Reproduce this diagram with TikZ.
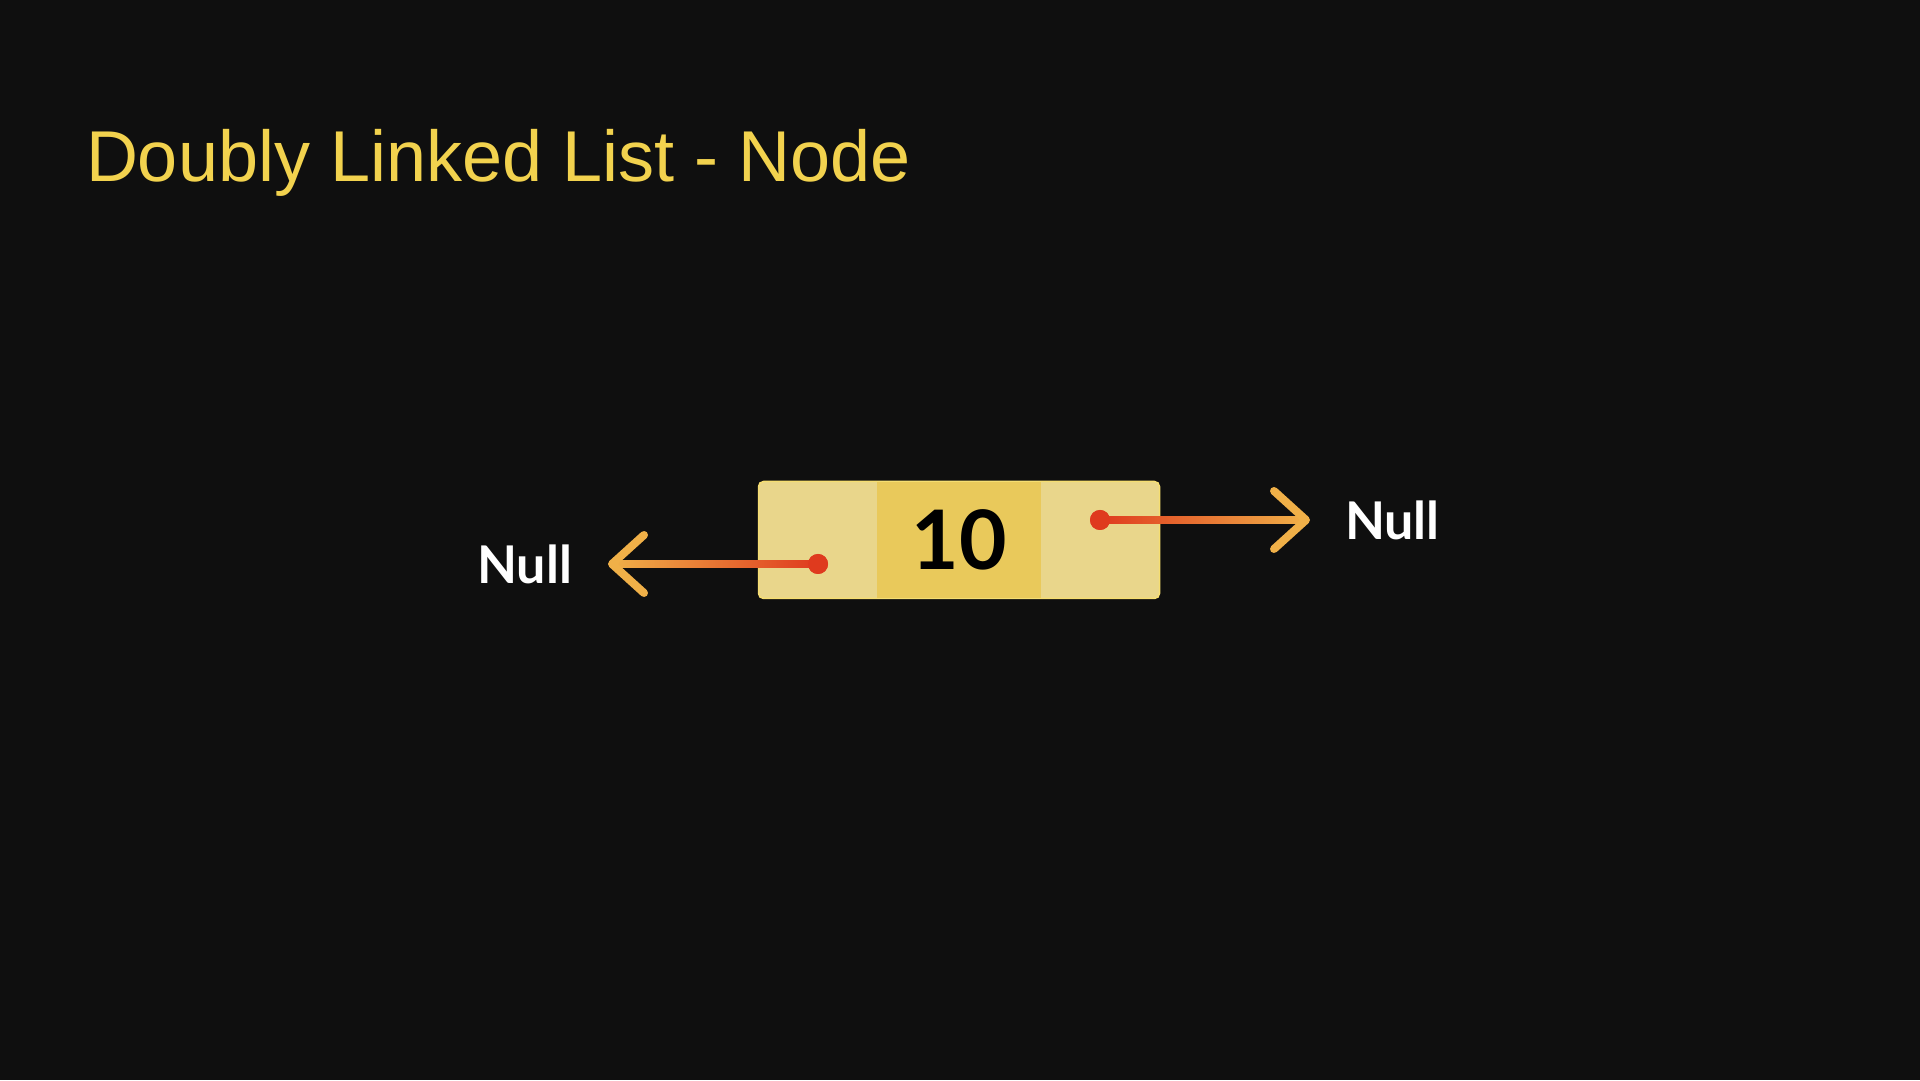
\documentclass[tikz,border=0pt]{standalone}
\usepackage{fontspec}
\setmainfont{Liberation Sans}
\newfontfamily\labelfont{Lato}
\usetikzlibrary{positioning, calc}
\definecolor{bgdark}{HTML}{0F0F0F}
\definecolor{titleyellow}{HTML}{F2D24E}
\definecolor{celllight}{HTML}{E9D68B}
\definecolor{cellmid}{HTML}{E9C95B}
\definecolor{cellrim}{HTML}{F6DE72}
\definecolor{linkred}{HTML}{DF3A1E}
\definecolor{linkorange}{HTML}{F0B048}

\begin{document}
\begin{tikzpicture}[x=1pt, y=1pt, every node/.style={inner sep=0pt, outer sep=0pt},
  title/.style={text=titleyellow, font=\fontsize{72}{86}\selectfont},
  nodebox/.style={draw=cellrim, line width=1.5pt, fill=celllight, rounded corners=5pt, minimum width=401pt, minimum height=117pt},
  valcell/.style={fill=cellmid, minimum width=164pt, minimum height=116pt, font=\labelfont\bfseries\fontsize{82}{96}\selectfont},
  dot/.style={circle, fill=linkred, minimum size=20pt},
  chevron/.style={draw=linkorange, line width=8pt, line cap=round, line join=round},
  nulltext/.style={text=white, font=\labelfont\bfseries\fontsize{52}{62}\selectfont}]
\fill[bgdark] (0,0) rectangle (1920,1080);
\useasboundingbox (0,0) rectangle (1920,1080);

\node[title, anchor=base west] (title) at (86,898) {Doubly Linked List - Node};

\node[nodebox] (box) at (959,540) {};
\node[valcell] (val) at (box.center) {10};

\node[dot] (prevdot) at (818,516) {};
\node[dot] (nextdot) at (1100,560) {};
\coordinate (prevtip) at (612,516);
\coordinate (nexttip) at (1306,560);

\node[nulltext, left=40pt of prevtip] (prevnull) {Null};
\node[nulltext, right=39pt of nexttip] (nextnull) {Null};

\shade[left color=linkorange, right color=linkred] ($(prevtip)+(0,-3.5)$) rectangle ($(prevdot.center)+(0,3.5)$);
\shade[left color=linkred, right color=linkorange] ($(nextdot.center)+(0,-3.5)$) rectangle ($(nexttip)+(0,3.5)$);
\node[dot] at (prevdot) {};
\node[dot] at (nextdot) {};

\draw[chevron] ($(prevtip)+(32,29)$) -- (prevtip) -- ($(prevtip)+(32,-29)$);
\draw[chevron] ($(nexttip)+(-32,29)$) -- (nexttip) -- ($(nexttip)+(-32,-29)$);
\end{tikzpicture}
\end{document}
